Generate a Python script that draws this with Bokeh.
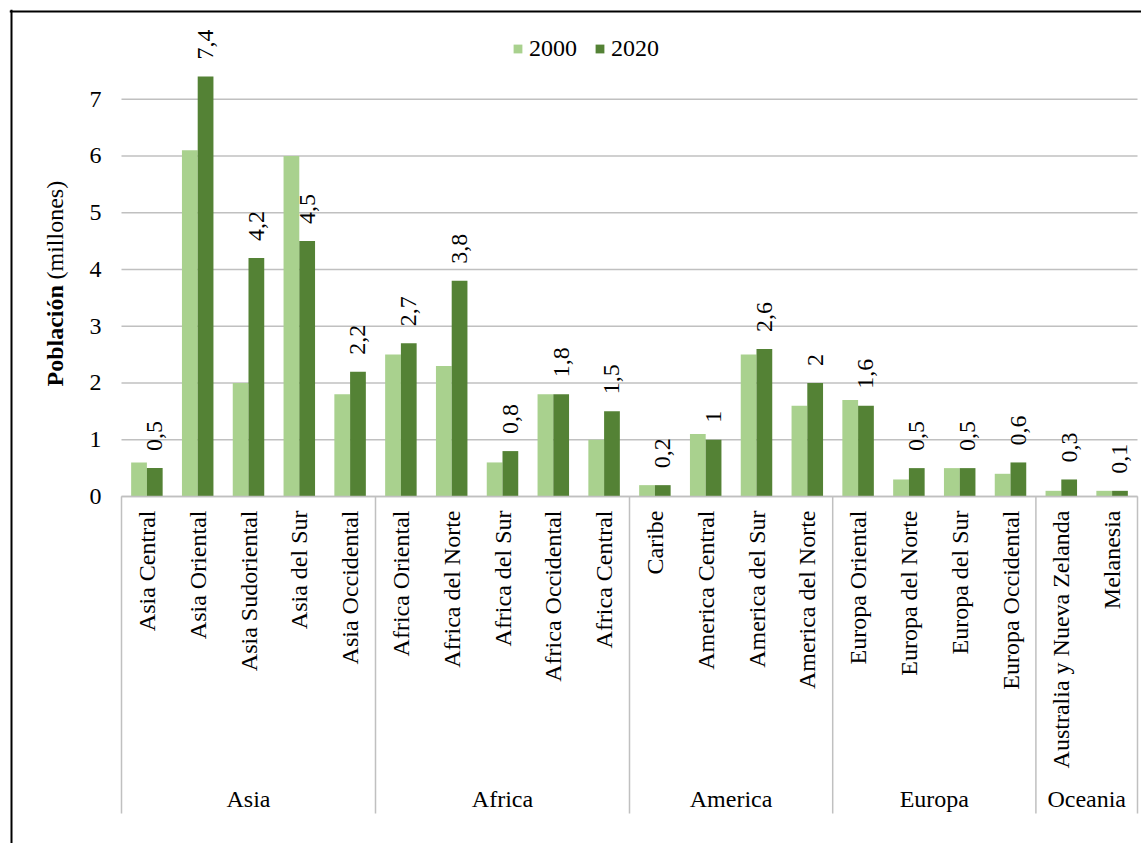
from math import pi

from bokeh.core.properties import value
from bokeh.embed import file_html
from bokeh.models import ColumnDataSource, FixedTicker, Range1d, Span
from bokeh.plotting import figure
from bokeh.resources import INLINE

# ---- data -----------------------------------------------------------------
continents = ["Asia"] * 5 + ["Africa"] * 5 + ["America"] * 4 + ["Europa"] * 4 + ["Oceania"] * 2
subregions = [
    "Asia Central", "Asia Oriental", "Asia Sudoriental", "Asia del Sur", "Asia Occidental",
    "Africa Oriental", "Africa del Norte", "Africa del Sur", "Africa Occidental", "Africa Central",
    "Caribe", "America Central", "America del Sur", "America del Norte",
    "Europa Oriental", "Europa del Norte", "Europa del Sur", "Europa Occidental",
    "Australia y Nueva Zelanda", "Melanesia",
]
pop_2000 = [0.6, 6.1, 2.0, 6.0, 1.8, 2.5, 2.3, 0.6, 1.8, 1.0,
            0.2, 1.1, 2.5, 1.6, 1.7, 0.3, 0.5, 0.4, 0.1, 0.1]
pop_2020 = [0.5, 7.4, 4.2, 4.5, 2.2, 2.7, 3.8, 0.8, 1.8, 1.5,
            0.2, 1.0, 2.6, 2.0, 1.6, 0.5, 0.5, 0.6, 0.3, 0.1]
series_names = ["2000", "2020"]
y_ticks = [0, 1, 2, 3, 4, 5, 6, 7]
y_title = ["Población", "(millones)"]

# ---- style ----------------------------------------------------------------
FONT = "Liberation Serif"
FS = "24px"
LIGHT = "#A9D18E"
DARK = "#548235"
GRID = "#C0C0C0"
TXT = "#000000"

# page geometry (pixels)
W, H = 1141, 843
FRAME_L, FRAME_T = 9, 9          # the frame covers the whole chart area
CAT_PX = 50.8                     # width of one category slot
VAL_PX = 56.76                    # one million on the value axis
X0_PX, Y0_PX = 121, 496           # where the first category starts / where 0 sits
SEP_BOTTOM_PX = 813               # lower end of the group separators


def sx(px):   # pixel column -> x data value
    return (px - X0_PX) / CAT_PX


def sy(py):   # pixel row -> y data value
    return (Y0_PX - py) / VAL_PX


BAR_W = 0.31
SHIFT = BAR_W / 2


def comma(v):
    return f"{v:g}".replace(".", ",")


n = len(subregions)
centers = [i + 0.5 for i in range(n)]
src = ColumnDataSource(dict(
    x2000=[c - SHIFT for c in centers],
    x2020=[c + SHIFT for c in centers],
    y2000=pop_2000,
    y2020=pop_2020,
    lbl2020=[comma(v) for v in pop_2020],
))

p = figure(
    x_range=Range1d(sx(FRAME_L), sx(W)), y_range=Range1d(sy(H), sy(FRAME_T)),
    width=W, height=H,
    min_border_left=FRAME_L, min_border_top=FRAME_T, min_border_right=0, min_border_bottom=0,
    output_backend="svg", toolbar_location=None,
)
p.background_fill_color = "white"
p.border_fill_color = "white"
p.outline_line_color = None
p.xgrid.visible = False
p.ygrid.visible = False

# horizontal gridlines across the category area
p.segment(x0=0, x1=n, y0=y_ticks, y1=y_ticks, line_color=GRID, line_width=1.5)

# bars
p.vbar(x="x2000", top="y2000", width=BAR_W, source=src,
       fill_color=LIGHT, line_color=None, legend_label=series_names[0])
p.vbar(x="x2020", top="y2020", width=BAR_W, source=src,
       fill_color=DARK, line_color=None, legend_label=series_names[1])

# value labels above the 2020 bars
p.text(x="x2020", y="y2020", text="lbl2020", source=src,
       angle=pi / 2, text_align="left", text_baseline="middle", y_offset=-17,
       text_font=value(FONT), text_font_size=FS, text_color=TXT)

# category axis sitting on y = 0
xa = p.xaxis[0]
xa.fixed_location = 0
xa.bounds = (0, n)
xa.ticker = FixedTicker(ticks=centers)
xa.major_label_overrides = {c: name for c, name in zip(centers, subregions)}
xa.axis_line_color = GRID
xa.axis_line_width = 1.5
xa.major_tick_line_color = None
xa.minor_tick_line_color = None
xa.major_tick_out = 0
xa.major_tick_in = 0
xa.major_label_orientation = pi / 2
xa.major_label_standoff = 14
xa.major_label_text_font = FONT
xa.major_label_text_font_size = FS
xa.major_label_text_color = TXT

# value axis on the left edge of the category area
ya = p.yaxis[0]
ya.fixed_location = 0
ya.ticker = FixedTicker(ticks=y_ticks)
ya.axis_line_color = None
ya.major_tick_line_color = None
ya.minor_tick_line_color = None
ya.major_tick_out = 0
ya.major_tick_in = 0
ya.major_label_standoff = 20
ya.major_label_text_font = FONT
ya.major_label_text_font_size = FS
ya.major_label_text_color = TXT

# continent groups: separators and names
starts = [i for i in range(n) if i == 0 or continents[i] != continents[i - 1]]
ends = starts[1:] + [n]
groups = [continents[i] for i in starts]
edges = starts + [n]
p.segment(x0=edges, x1=edges, y0=0, y1=sy(SEP_BOTTOM_PX), line_color=GRID, line_width=1.5)
p.text(x=[(a + b) / 2 for a, b in zip(starts, ends)], y=sy(798), text=groups,
       text_align="center", text_baseline="middle",
       text_font=value(FONT), text_font_size=FS, text_color=TXT)

# axis title: bold word followed by the unit
p.text(x=sx(54), y=sy(386), text=[y_title[0]], angle=pi / 2,
       text_align="left", text_baseline="middle",
       text_font=value(FONT), text_font_style="bold", text_font_size=FS, text_color=TXT)
p.text(x=sx(54), y=sy(279), text=[y_title[1]], angle=pi / 2,
       text_align="left", text_baseline="middle",
       text_font=value(FONT), text_font_size=FS, text_color=TXT)

# legend
lg = p.legend[0]
lg.orientation = "horizontal"
lg.location = (512 - FRAME_L, H - 62)
lg.label_text_font = FONT
lg.label_text_font_size = FS
lg.label_text_color = TXT
lg.glyph_width = 11
lg.glyph_height = 11
lg.label_standoff = 6
lg.spacing = 17
lg.padding = 0
lg.margin = 0
lg.border_line_color = None
lg.background_fill_alpha = 0

# chart border (left and top edges)
p.add_layout(Span(location=sx(11), dimension="height", line_color="black", line_width=2))
p.add_layout(Span(location=sy(11), dimension="width", line_color="black", line_width=2))

open("out.html", "w").write(file_html(p, INLINE))
